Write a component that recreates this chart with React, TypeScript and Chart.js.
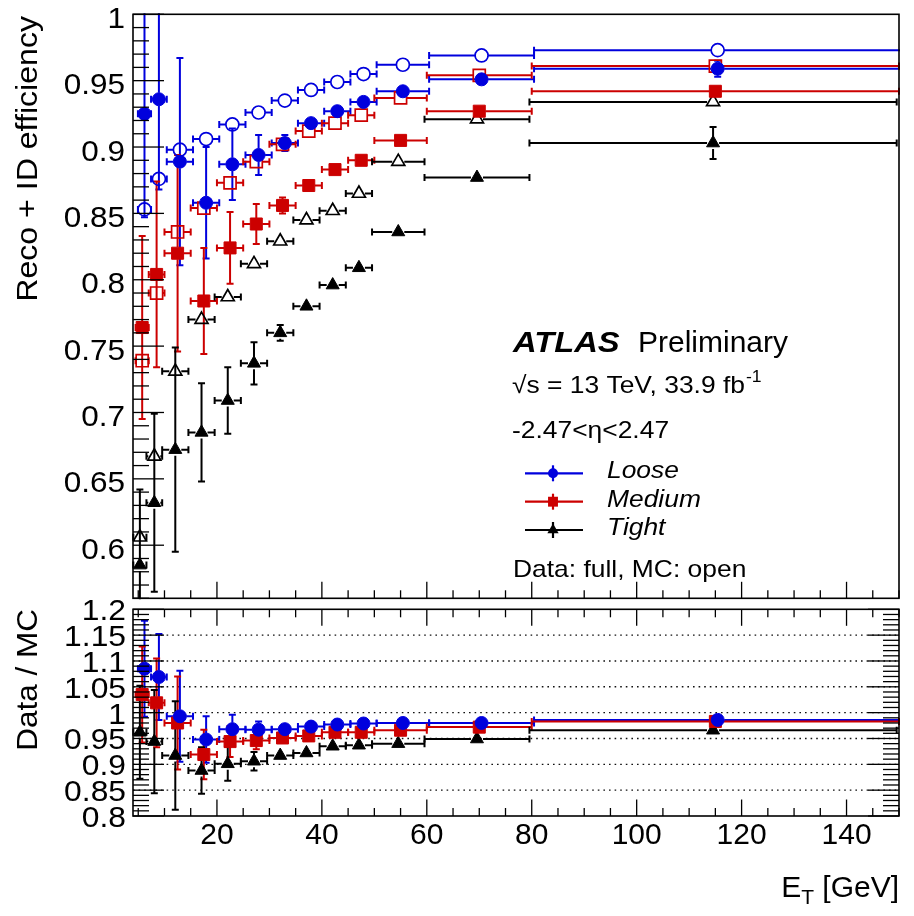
import React, { useEffect, useRef } from 'react';
import { Chart, registerables } from 'chart.js';

Chart.register(...registerables);

// ---------------- data ----------------
const etBinEdges = [4.5, 7, 10, 15, 20, 25, 30, 35, 40, 45, 50, 60, 80, 150];
const etBinCenters = [5.75, 8.5, 12.5, 17.5, 22.5, 27.5, 32.5, 37.5, 42.5, 47.5, 55, 70, 115];

const looseData = [0.925, 0.936, 0.889, 0.858, 0.887, 0.894, 0.903, 0.918, 0.927, 0.934, 0.942, 0.951, 0.959];
const looseDataErr = [0.078, 0.068, 0.078, 0.042, 0.027, 0.015, 0.006, 0.005, 0.004, 0.004, 0.004, 0.004, 0.006];
const looseMC = [0.853, 0.876, 0.898, 0.906, 0.917, 0.926, 0.935, 0.943, 0.949, 0.955, 0.962, 0.969, 0.973];
const looseMCErr = [0.004, 0.003, 0.003, 0.002, 0.002, 0.002, 0.001, 0.001, 0.001, 0.001, 0.001, 0.001, 0.002];
const looseRatio = [1.085, 1.069, 0.993, 0.948, 0.968, 0.967, 0.968, 0.973, 0.977, 0.979, 0.98, 0.98, 0.986];
const looseRatioErr = [0.093, 0.083, 0.088, 0.045, 0.028, 0.016, 0.007, 0.006, 0.005, 0.005, 0.004, 0.004, 0.006];

const mediumData = [0.764, 0.804, 0.82, 0.784, 0.824, 0.842, 0.856, 0.871, 0.883, 0.89, 0.905, 0.927, 0.942];
const mediumDataErr = [0.069, 0.07, 0.074, 0.04, 0.027, 0.015, 0.006, 0.005, 0.004, 0.004, 0.004, 0.004, 0.005];
const mediumMC = [0.739, 0.79, 0.836, 0.854, 0.873, 0.889, 0.902, 0.912, 0.918, 0.924, 0.937, 0.954, 0.961];
const mediumMCErr = [0.004, 0.003, 0.003, 0.002, 0.002, 0.002, 0.001, 0.001, 0.001, 0.001, 0.001, 0.001, 0.002];
const mediumRatio = [1.035, 1.019, 0.98, 0.919, 0.944, 0.946, 0.951, 0.955, 0.962, 0.962, 0.966, 0.972, 0.983];
const mediumRatioErr = [0.093, 0.086, 0.09, 0.048, 0.03, 0.017, 0.007, 0.006, 0.005, 0.005, 0.004, 0.004, 0.005];

const tightData = [0.585, 0.632, 0.672, 0.685, 0.709, 0.737, 0.76, 0.78, 0.796, 0.809, 0.836, 0.877, 0.903];
const tightDataErr = [0.057, 0.067, 0.077, 0.037, 0.025, 0.016, 0.006, 0.004, 0.004, 0.004, 0.004, 0.005, 0.012];
const tightMC = [0.606, 0.667, 0.731, 0.77, 0.787, 0.812, 0.829, 0.845, 0.852, 0.865, 0.889, 0.921, 0.934];
const tightMCErr = [0.004, 0.003, 0.003, 0.002, 0.002, 0.002, 0.001, 0.001, 0.001, 0.001, 0.001, 0.001, 0.002];
const tightRatio = [0.962, 0.944, 0.917, 0.888, 0.901, 0.906, 0.917, 0.922, 0.935, 0.937, 0.94, 0.949, 0.966];
const tightRatioErr = [0.09, 0.1, 0.105, 0.045, 0.033, 0.018, 0.008, 0.006, 0.005, 0.005, 0.005, 0.005, 0.013];

const seriesLabels = ['Loose', 'Medium', 'Tight'];

const etRange = [4, 150];
const effRange = [0.56, 1];
const ratioRange = [0.8, 1.2];

const etTicks = [20, 40, 60, 80, 100, 120, 140];
const etTickLabels = ['20', '40', '60', '80', '100', '120', '140'];
const effTicks = [0.6, 0.65, 0.7, 0.75, 0.8, 0.85, 0.9, 0.95, 1];
const effTickLabels = ['0.6', '0.65', '0.7', '0.75', '0.8', '0.85', '0.9', '0.95', '1'];
const ratioTicks = [0.8, 0.85, 0.9, 0.95, 1, 1.05, 1.1, 1.15, 1.2];
const ratioTickLabels = ['0.8', '0.85', '0.9', '0.95', '1', '1.05', '1.1', '1.15', '1.2'];

// ---------------- style ----------------
const W = 914;
const H = 916;
const FONT = '"Liberation Sans", Arial, Helvetica, sans-serif';
const BLUE = '#0000dd';
const RED = '#cc0000';
const BLACK = '#000000';

const PAD_LEFT = 133;
const PAD_RIGHT = W - 899;
const TOP_AREA = { top: 14.3, bottom: 598.3 };
const BOT_AREA = { top: 609.3, bottom: 816 };

const styles = [
  { color: BLUE, pointStyle: 'circle', radius: 6.5, half: 6.5, dx: 2.3, lr: 5 },
  { color: RED, pointStyle: 'rect', radius: 8.5, half: 6, dx: 0, lr: 7 },
  { color: BLACK, pointStyle: 'triangle', radius: 7.5, half: 6, dx: -2.3, lr: 6.5 },
];

function makeDataset(values: number[], errs: number[], st: any, filled: boolean, label: string) {
  return {
    label,
    data: etBinCenters.map((x, i) => ({ x, y: values[i] })),
    showLine: false,
    pointStyle: st.pointStyle,
    pointRadius: st.radius,
    pointHoverRadius: st.radius,
    pointBackgroundColor: filled ? st.color : 'rgba(0,0,0,0)',
    pointBorderColor: st.color,
    pointBorderWidth: filled ? 1 : 1.7,
    pointHoverBorderWidth: filled ? 1 : 1.7,
    yVals: values,
    errY: errs,
    xLow: etBinEdges.slice(0, -1),
    xHigh: etBinEdges.slice(1),
    dx: st.dx,
    half: st.half,
    errColor: st.color,
  };
}

function drawText(ctx: CanvasRenderingContext2D, text: string, x: number, y: number, font: string,
  align: CanvasTextAlign = 'left', sx = 1, rot = 0) {
  ctx.save();
  ctx.translate(x, y);
  if (rot) ctx.rotate(rot);
  ctx.scale(sx, 1);
  ctx.font = font;
  ctx.textAlign = align;
  ctx.textBaseline = 'alphabetic';
  ctx.fillStyle = '#000';
  ctx.fillText(text, 0, 0);
  const w = ctx.measureText(text).width * sx;
  ctx.restore();
  return w;
}

function seg(ctx: CanvasRenderingContext2D, x1: number, y1: number, x2: number, y2: number) {
  ctx.beginPath();
  ctx.moveTo(x1, y1);
  ctx.lineTo(x2, y2);
  ctx.stroke();
}

function drawMarker(ctx: CanvasRenderingContext2D, style: string, x: number, y: number, r: number, color: string) {
  ctx.fillStyle = color;
  ctx.beginPath();
  if (style === 'circle') {
    ctx.arc(x, y, r, 0, Math.PI * 2);
  } else if (style === 'rect') {
    const s = r * Math.SQRT1_2;
    ctx.rect(x - s, y - s, 2 * s, 2 * s);
  } else {
    ctx.moveTo(x, y - r);
    ctx.lineTo(x + r * Math.sin((2 * Math.PI) / 3), y - r * Math.cos((2 * Math.PI) / 3));
    ctx.lineTo(x + r * Math.sin((4 * Math.PI) / 3), y - r * Math.cos((4 * Math.PI) / 3));
    ctx.closePath();
  }
  ctx.fill();
}

function drawErrorBars(chart: any) {
  const { ctx, chartArea: a, scales } = chart;
  const xs = scales.x;
  const ys = scales.y;
  ctx.save();
  ctx.beginPath();
  ctx.rect(a.left - 1, a.top - 1, a.right - a.left + 2, a.bottom - a.top + 2);
  ctx.clip();
  ctx.lineWidth = 2;
  const cap = 3.5;
  chart.data.datasets.forEach((ds: any, di: number) => {
    const meta = chart.getDatasetMeta(di);
    ctx.strokeStyle = ds.errColor;
    meta.data.forEach((el: any, j: number) => {
      const px = el.x;
      const py = el.y;
      const h = ds.half;
      const xl = xs.getPixelForValue(ds.xLow[j]) + ds.dx;
      const xh = xs.getPixelForValue(ds.xHigh[j]) + ds.dx;
      if (px - h > xl) seg(ctx, xl, py, px - h, py);
      if (xh > px + h) seg(ctx, px + h, py, xh, py);
      seg(ctx, xl, py - cap, xl, py + cap);
      seg(ctx, xh, py - cap, xh, py + cap);
      const yt = ys.getPixelForValue(ds.yVals[j] + ds.errY[j]);
      const yb = ys.getPixelForValue(ds.yVals[j] - ds.errY[j]);
      if (py - yt > h + 1) {
        seg(ctx, px, yt, px, py - h);
        seg(ctx, px - cap, yt, px + cap, yt);
      }
      if (yb - py > h + 1) {
        seg(ctx, px, py + h, px, yb);
        seg(ctx, px - cap, yb, px + cap, yb);
      }
    });
  });
  ctx.restore();
}

function drawFrameAndTicks(chart: any, kind: 'top' | 'bottom') {
  const { ctx, chartArea: a, scales } = chart;
  const xs = scales.x;
  const ys = scales.y;
  ctx.save();
  ctx.strokeStyle = '#000';
  ctx.lineWidth = 1.3;
  const kFrom = kind === 'top' ? 56 : 80;
  const kTo = kind === 'top' ? 100 : 120;
  for (let k = kFrom; k <= kTo; k++) {
    const y = ys.getPixelForValue(k / 100);
    const major = k % 5 === 0;
    const len = major ? 31 : 16;
    seg(ctx, a.left, y, a.left + len, y);
    if (kind === 'bottom') seg(ctx, a.right, y, a.right - len, y);
  }
  for (let k = 5; k <= 150; k += 5) {
    const x = xs.getPixelForValue(k);
    const major = k % 20 === 0;
    const len = major ? 16.5 : 8;
    seg(ctx, x, a.bottom, x, a.bottom - len);
    if (kind === 'bottom') seg(ctx, x, a.top, x, a.top + len);
  }
  ctx.lineWidth = 1.6;
  ctx.strokeRect(a.left, a.top, a.right - a.left, a.bottom - a.top);
  ctx.restore();

  const labFont = `30px ${FONT}`;
  if (kind === 'top') {
    effTicks.forEach((v, i) => {
      drawText(ctx, effTickLabels[i], a.left - 8, ys.getPixelForValue(v) + 13.5, labFont, 'right', 1.05);
    });
  } else {
    ratioTicks.forEach((v, i) => {
      drawText(ctx, ratioTickLabels[i], a.left - 7, ys.getPixelForValue(v) + 11, labFont, 'right', 1.06);
    });
    etTicks.forEach((v, i) => {
      drawText(ctx, etTickLabels[i], xs.getPixelForValue(v), a.bottom + 27.5, labFont, 'center', 1);
    });
  }
}

function drawTopTexts(chart: any) {
  const ctx: CanvasRenderingContext2D = chart.ctx;
  // y title
  drawText(ctx, 'Reco + ID efficiency', 37, 16, `30px ${FONT}`, 'right', 1.07, -Math.PI / 2);
  // ATLAS label
  drawText(ctx, 'ATLAS', 513, 352, `italic bold 30px ${FONT}`, 'left', 1.09);
  drawText(ctx, 'Preliminary', 638, 352, `30px ${FONT}`, 'left', 1.0);
  const small = `24px ${FONT}`;
  const w1 = drawText(ctx, '\u221As = 13 TeV, 33.9 fb', 512, 393, small, 'left', 1.1);
  drawText(ctx, '-1', 512 + w1 + 1, 382, `16px ${FONT}`, 'left', 1.1);
  drawText(ctx, '-2.47<\u03B7<2.47', 512, 438, small, 'left', 1.1);
  // legend
  const ly = [473.3, 501.7, 530];
  ctx.save();
  styles.forEach((st, i) => {
    ctx.strokeStyle = st.color;
    ctx.lineWidth = 2.2;
    seg(ctx, 525, ly[i], 583, ly[i]);
    seg(ctx, 553, ly[i] - 8, 553, ly[i] + 8);
    drawMarker(ctx, st.pointStyle, 553, ly[i], st.lr, st.color);
    drawText(ctx, seriesLabels[i], 607, ly[i] + 5, `italic 24px ${FONT}`, 'left', 1.1);
  });
  ctx.restore();
  drawText(ctx, 'Data: full, MC: open', 513, 577, small, 'left', 1.1);
}

function drawBottomTexts(chart: any) {
  const ctx: CanvasRenderingContext2D = chart.ctx;
  drawText(ctx, 'Data / MC', 37, 609, `30px ${FONT}`, 'right', 1.05, -Math.PI / 2);
  // x title E_T [GeV], right aligned at frame edge
  ctx.save();
  ctx.font = `30px ${FONT}`;
  const wRest = ctx.measureText(' [GeV]').width;
  const wE = ctx.measureText('E').width;
  ctx.font = `21px ${FONT}`;
  const wT = ctx.measureText('T').width;
  ctx.restore();
  const right = 899;
  const x0 = right - wRest - wT - wE;
  drawText(ctx, 'E', x0, 897, `30px ${FONT}`);
  drawText(ctx, 'T', x0 + wE, 904, `21px ${FONT}`);
  drawText(ctx, ' [GeV]', x0 + wE + wT, 897, `30px ${FONT}`);
}

function panelPlugin(kind: 'top' | 'bottom') {
  return {
    id: 'atlasPanel' + kind,
    afterDatasetUpdate(chart: any, args: any) {
      const ds = chart.data.datasets[args.index];
      args.meta.data.forEach((el: any) => {
        el.x += ds.dx || 0;
      });
    },
    beforeDatasetsDraw(chart: any) {
      const { ctx, chartArea: a, scales } = chart;
      if (kind === 'bottom') {
        ctx.save();
        ctx.strokeStyle = '#111';
        ctx.lineWidth = 1.4;
        ctx.setLineDash([1.6, 4]);
        ratioTicks.slice(1, -1).forEach((v) => {
          const y = scales.y.getPixelForValue(v);
          seg(ctx, a.left, y, a.right, y);
        });
        ctx.restore();
      }
      drawErrorBars(chart);
    },
    afterDraw(chart: any) {
      drawFrameAndTicks(chart, kind);
      if (kind === 'top') drawTopTexts(chart);
      else drawBottomTexts(chart);
    },
  };
}

function makeConfig(kind: 'top' | 'bottom'): any {
  const datasets =
    kind === 'top'
      ? [
          makeDataset(looseMC, looseMCErr, styles[0], false, 'Loose MC'),
          makeDataset(looseData, looseDataErr, styles[0], true, 'Loose data'),
          makeDataset(mediumMC, mediumMCErr, styles[1], false, 'Medium MC'),
          makeDataset(mediumData, mediumDataErr, styles[1], true, 'Medium data'),
          makeDataset(tightMC, tightMCErr, styles[2], false, 'Tight MC'),
          makeDataset(tightData, tightDataErr, styles[2], true, 'Tight data'),
        ]
      : [
          makeDataset(looseRatio, looseRatioErr, styles[0], true, 'Loose'),
          makeDataset(mediumRatio, mediumRatioErr, styles[1], true, 'Medium'),
          makeDataset(tightRatio, tightRatioErr, styles[2], true, 'Tight'),
        ];
  const area = kind === 'top' ? TOP_AREA : BOT_AREA;
  const yr = kind === 'top' ? effRange : ratioRange;
  return {
    type: 'scatter',
    data: { datasets },
    options: {
      responsive: false,
      animation: false,
      devicePixelRatio: 1,
      events: [],
      layout: { padding: { left: PAD_LEFT, right: PAD_RIGHT, top: area.top, bottom: H - area.bottom } },
      scales: {
        x: { type: 'linear', min: etRange[0], max: etRange[1], display: false },
        y: { type: 'linear', min: yr[0], max: yr[1], display: false },
      },
      plugins: { legend: { display: false }, tooltip: { enabled: false }, title: { display: false } },
    },
    plugins: [panelPlugin(kind)],
  };
}

export default function App() {
  const topRef = useRef<HTMLCanvasElement>(null);
  const botRef = useRef<HTMLCanvasElement>(null);
  useEffect(() => {
    const top = new Chart(topRef.current as HTMLCanvasElement, makeConfig('top'));
    const bot = new Chart(botRef.current as HTMLCanvasElement, makeConfig('bottom'));
    return () => {
      top.destroy();
      bot.destroy();
    };
  }, []);
  return (
    <div style={{ position: 'fixed', left: 0, top: 0, width: W, height: H, background: '#fff' }}>
      <canvas ref={topRef} width={W} height={H} style={{ position: 'absolute', left: 0, top: 0, width: W, height: H }} />
      <canvas ref={botRef} width={W} height={H} style={{ position: 'absolute', left: 0, top: 0, width: W, height: H }} />
    </div>
  );
}
